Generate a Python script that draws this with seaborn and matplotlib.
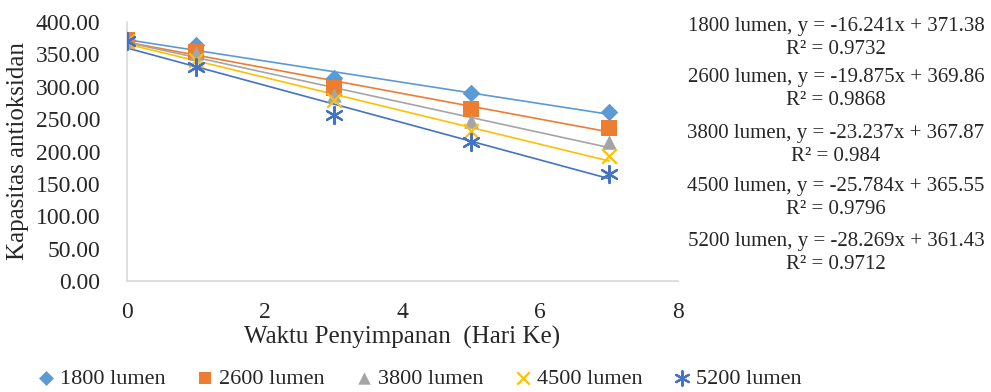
import pandas as pd
import matplotlib.pyplot as plt
import seaborn as sns

# data
days = [0, 1, 3, 5, 7]
lumen_1800 = [372, 364, 313, 290, 261]
lumen_2600 = [372, 354, 298, 266, 237]
lumen_3800 = [371, 352, 287, 247, 214]
lumen_4500 = [371, 342, 280, 231, 193]
lumen_5200 = [370, 331, 256, 215, 166]
series_names = ["1800 lumen", "2600 lumen", "3800 lumen", "4500 lumen", "5200 lumen"]
equations = [
    "1800 lumen, y = -16.241x + 371.38\nR² = 0.9732",
    "2600 lumen, y = -19.875x + 369.86\nR² = 0.9868",
    "3800 lumen, y = -23.237x + 367.87\nR² = 0.984",
    "4500 lumen, y = -25.784x + 365.55\nR² = 0.9796",
    "5200 lumen, y = -28.269x + 361.43\nR² = 0.9712",
]
y_ticks = [0, 50, 100, 150, 200, 250, 300, 350, 400]
x_ticks = [0, 2, 4, 6, 8]

colors = ["#5B9BD5", "#ED7D31", "#A5A5A5", "#FFC000", "#4472C4"]
markers = ["D", "s", "^", "x", (6, 2, 0)]
sizes = [80, 120, 110, 110, 150]

sns.set_style("white")
plt.rcParams["font.family"] = ["Liberation Serif", "DejaVu Serif"]

fig = plt.figure(figsize=(9.91, 3.92), dpi=100)
ax = fig.add_axes([127 / 991, 1 - 281 / 392, 551 / 991, 259 / 392])

all_values = [lumen_1800, lumen_2600, lumen_3800, lumen_4500, lumen_5200]
for name, vals, c, m, s in zip(series_names, all_values, colors, markers, sizes):
    df = pd.DataFrame({"day": days, "value": vals})
    filled = m in ["D", "s", "^"]
    sns.regplot(data=df, x="day", y="value", ax=ax, ci=None, truncate=True,
                marker=m, color=c, label=name,
                scatter_kws={"s": s, "alpha": 1, "linewidths": 0 if filled else 1.6, "zorder": 3},
                line_kws={"linewidth": 1.2, "zorder": 2})

ax.set_xlim(0, 8)
ax.set_ylim(0, 400)
ax.set_xticks(x_ticks)
ax.set_yticks(y_ticks)
ax.set_yticklabels([f"{v:.2f}" for v in y_ticks])
ax.tick_params(axis="both", length=0, labelsize=17)
ax.tick_params(axis="y", pad=19)
ax.tick_params(axis="x", pad=15)
ax.set_xlabel("Waktu Penyimpanan  (Hari Ke)", fontsize=18, labelpad=2)
ax.set_ylabel("Kapasitas antioksidan", fontsize=18, labelpad=5)
sns.despine(ax=ax)
for sp in ["left", "bottom"]:
    ax.spines[sp].set_color("#D9D9D9")
    ax.spines[sp].set_linewidth(1.2)

# trendline labels on the right
label_y = [38, 89, 145, 198, 253]
for txt, py in zip(equations, label_y):
    fig.text(836 / 991, 1 - py / 392, txt, ha="center", va="center",
             fontsize=15, linespacing=1.35)

fig.legend(loc="center", bbox_to_anchor=(420 / 991, 1 - 379 / 392), ncol=5,
           frameon=False, fontsize=16, handlelength=0.7, handletextpad=0.3,
           columnspacing=1.4, markerscale=0.85)

fig.savefig("out.png", dpi=100)
